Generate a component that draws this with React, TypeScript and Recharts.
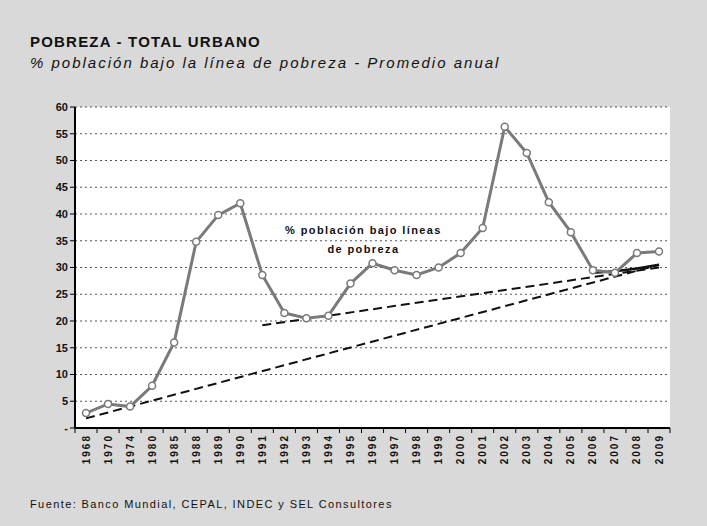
import {
  ComposedChart,
  Line,
  XAxis,
  YAxis,
  CartesianGrid,
} from "recharts";

// Years on the category axis
const years = [
  "1968", "1970", "1974", "1980", "1985", "1988", "1989", "1990", "1991",
  "1992", "1993", "1994", "1995", "1996", "1997", "1998", "1999", "2000",
  "2001", "2002", "2003", "2004", "2005", "2006", "2007", "2008", "2009",
];

// % población bajo la línea de pobreza
const poverty = [
  2.8, 4.5, 4, 7.9, 16, 34.8, 39.8, 42, 28.6, 21.5, 20.5, 21, 27, 30.8,
  29.5, 28.6, 30, 32.7, 37.4, 56.3, 51.4, 42.2, 36.6, 29.5, 29, 32.7, 33,
];

// dashed trend lines (only start / end values)
const trendLong: (number | null)[] = years.map(() => null);
trendLong[0] = 1.8;
trendLong[26] = 30.5;

const trendShort: (number | null)[] = years.map(() => null);
trendShort[8] = 19.2;
trendShort[26] = 30;

// short solid black segment at the end
const recentLine: (number | null)[] = years.map(() => null);
recentLine[23] = 29;
recentLine[24] = 29.3;
recentLine[25] = 29.8;
recentLine[26] = 30.5;

const yTicks = [0, 5, 10, 15, 20, 25, 30, 35, 40, 45, 50, 55, 60];

const data = years.map((year, i) => ({
  year,
  poverty: poverty[i],
  trendLong: trendLong[i],
  trendShort: trendShort[i],
  recent: recentLine[i],
}));

const YearTick = (props: any) => {
  const { x, y, payload, index } = props;
  return (
    <g>
      <line x1={x - 11} y1={y} x2={x - 11} y2={y + 5} stroke="#000" />
      {index === years.length - 1 && (
        <line x1={x + 11} y1={y} x2={x + 11} y2={y + 5} stroke="#000" />
      )}
      <text
        transform={`translate(${x + 3.5}, ${y + 6}) rotate(-90)`}
        textAnchor="end"
        fontSize={10}
        fontWeight="bold"
        letterSpacing={2}
        fill="#111"
      >
        {payload.value}
      </text>
    </g>
  );
};

export default function App() {
  return (
    <div
      style={{
        position: "fixed",
        left: 0,
        top: 0,
        width: 707,
        height: 526,
        background: "#d9d9d9",
        fontFamily: "'Liberation Sans', Arial, sans-serif",
      }}
    >
      <div style={{ position: "absolute", left: 30, top: 33, fontSize: 15, fontWeight: "bold", color: "#111", letterSpacing: 1.2 }}>
        POBREZA - TOTAL URBANO
      </div>
      <div style={{ position: "absolute", left: 30, top: 54, fontSize: 15, fontStyle: "italic", color: "#111", letterSpacing: 2 }}>
        % población bajo la línea de pobreza - Promedio anual
      </div>

      <ComposedChart
        width={707}
        height={526}
        data={data}
        margin={{ top: 107, right: 37, left: 45, bottom: 53 }}
      >
        <CartesianGrid
          vertical={false}
          fill="#ffffff"
          stroke="#555"
          strokeDasharray="2 3"
        />
        <XAxis
          dataKey="year"
          interval={0}
          height={45}
          padding={{ left: 11, right: 11 }}
          tickSize={0}
          tickMargin={0}
          tickLine={false}
          tick={<YearTick />}
          axisLine={{ stroke: "#000", strokeWidth: 2 }}
        />
        <XAxis
          xAxisId="top"
          dataKey="year"
          orientation="top"
          height={0}
          tick={false}
          tickLine={false}
          axisLine={{ stroke: "#000", strokeWidth: 1 }}
        />
        <YAxis
          domain={[0, 60]}
          ticks={yTicks}
          interval={0}
          width={30}
          tickSize={5}
          tickFormatter={(v: number) => (v === 0 ? "-" : String(v))}
          tick={{ fontSize: 11, fontWeight: "bold", fill: "#111" }}
          tickLine={{ stroke: "#000" }}
          axisLine={{ stroke: "#000", strokeWidth: 2 }}
        />
        <YAxis
          yAxisId="right"
          orientation="right"
          domain={[0, 60]}
          width={0}
          tick={false}
          tickLine={false}
          axisLine={{ stroke: "#000", strokeWidth: 1.5 }}
        />
        <Line
          dataKey="trendLong"
          stroke="#111"
          strokeWidth={2}
          strokeDasharray="9 5"
          dot={false}
          connectNulls
          isAnimationActive={false}
        />
        <Line
          dataKey="trendShort"
          stroke="#111"
          strokeWidth={2}
          strokeDasharray="9 5"
          dot={false}
          connectNulls
          isAnimationActive={false}
        />
        <Line
          dataKey="recent"
          stroke="#111"
          strokeWidth={2.5}
          dot={false}
          isAnimationActive={false}
        />
        <Line
          dataKey="poverty"
          stroke="#7a7a7a"
          strokeWidth={3}
          dot={{ r: 3.5, fill: "#ffffff", stroke: "#7a7a7a", strokeWidth: 1.5 }}
          isAnimationActive={false}
        />
      </ComposedChart>

      <div style={{ position: "absolute", left: 285, top: 221, fontSize: 11, fontWeight: "bold", color: "#111", textAlign: "center", lineHeight: "19px", letterSpacing: 1.4 }}>
        % población bajo líneas
        <br />
        de pobreza
      </div>

      <div style={{ position: "absolute", left: 30, top: 498, fontSize: 11, color: "#111", letterSpacing: 1.4 }}>
        Fuente: Banco Mundial, CEPAL, INDEC y SEL Consultores
      </div>
    </div>
  );
}
